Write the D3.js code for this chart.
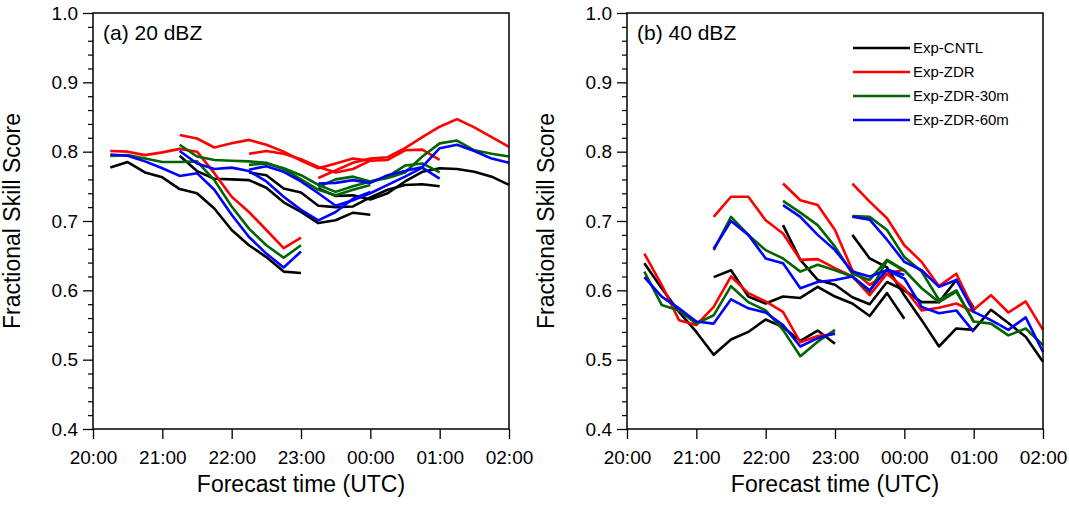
<!DOCTYPE html>
<html><head><meta charset="utf-8">
<script src="https://cdn.jsdelivr.net/npm/d3@7"></script>
<style>body{margin:0;background:#fff}svg{display:block}text{font-family:"Liberation Sans",Arial,Helvetica,sans-serif;fill:#000}</style>
</head><body><svg id="c" width="1069" height="506"></svg>
<script>
// ---- data ----
const xTickLabels = ["20:00","21:00","22:00","23:00","00:00","01:00","02:00"];
const yTickValues = [0.4,0.5,0.6,0.7,0.8,0.9,1.0];
const initMinutes = [0, 60, 120, 180];          // forecast start, minutes after 20:00
const leadMinutes = [15,30,45,60,75,90,105,120,135,150,165,180];
const seriesNames = ["Exp-CNTL","Exp-ZDR","Exp-ZDR-30m","Exp-ZDR-60m"];
const seriesColors = ["#000000","#ff0000","#006400","#0000ff"];
const panelTitles = ["(a) 20 dBZ","(b) 40 dBZ"];

// panel (a) 20 dBZ : one row per forecast cycle
const a_CNTL = [
 [0.777,0.785,0.770,0.763,0.746,0.740,0.718,0.687,0.665,0.648,0.627,0.625],
 [0.794,0.772,0.761,0.760,0.759,0.748,0.727,0.713,0.697,0.701,0.712,0.709],
 [0.770,0.766,0.747,0.741,0.722,0.720,0.721,0.734,0.745,0.752,0.753,0.750],
 [0.747,0.736,0.737,0.731,0.740,0.757,0.771,0.776,0.775,0.771,0.764,0.752]];
const a_ZDR = [
 [0.801,0.800,0.795,0.799,0.804,0.800,0.769,0.735,0.713,0.687,0.661,0.676],
 [0.824,0.819,0.806,0.812,0.817,0.810,0.800,0.787,0.776,0.783,0.790,0.787],
 [0.797,0.801,0.797,0.789,0.778,0.770,0.775,0.787,0.788,0.802,0.803,0.788],
 [0.762,0.773,0.784,0.790,0.792,0.805,0.821,0.836,0.847,0.835,0.821,0.807]];
const a_ZDR30 = [
 [0.794,0.795,0.790,0.785,0.785,0.786,0.759,0.721,0.689,0.665,0.647,0.665],
 [0.810,0.793,0.788,0.787,0.786,0.784,0.775,0.760,0.745,0.737,0.745,0.752],
 [0.781,0.783,0.776,0.766,0.752,0.742,0.750,0.757,0.764,0.780,0.783,0.770],
 [0.749,0.760,0.764,0.757,0.762,0.770,0.793,0.812,0.816,0.802,0.797,0.793]];
const a_ZDR60 = [
 [0.796,0.794,0.786,0.776,0.765,0.769,0.745,0.709,0.677,0.653,0.633,0.656],
 [0.801,0.783,0.775,0.777,0.772,0.757,0.735,0.716,0.701,0.713,0.732,0.742],
 [0.774,0.779,0.771,0.757,0.740,0.722,0.730,0.740,0.752,0.764,0.777,0.761],
 [0.754,0.755,0.759,0.755,0.766,0.772,0.778,0.805,0.810,0.801,0.790,0.784]];

// panel (b) 40 dBZ
const b_CNTL = [
 [0.639,0.603,0.569,0.540,0.507,0.529,0.540,0.558,0.547,0.527,0.542,0.523],
 [0.619,0.629,0.591,0.581,0.591,0.589,0.605,0.591,0.581,0.563,0.596,0.559],
 [0.694,0.644,0.615,0.608,0.590,0.580,0.612,0.600,0.583,0.583,0.615,0.575],
 [0.680,0.646,0.633,0.593,0.557,0.519,0.545,0.543,0.572,0.553,0.533,0.497]];
const b_ZDR = [
 [0.653,0.608,0.557,0.550,0.576,0.620,0.596,0.584,0.569,0.525,0.534,0.537],
 [0.706,0.735,0.735,0.701,0.682,0.644,0.645,0.632,0.620,0.593,0.624,0.630],
 [0.754,0.730,0.723,0.687,0.629,0.608,0.624,0.603,0.571,0.575,0.581,0.569],
 [0.754,0.728,0.704,0.665,0.641,0.606,0.624,0.572,0.593,0.568,0.584,0.543]];
const b_ZDR30 = [
 [0.627,0.579,0.571,0.552,0.564,0.606,0.583,0.571,0.543,0.505,0.526,0.543],
 [0.658,0.706,0.680,0.658,0.646,0.627,0.637,0.629,0.620,0.598,0.643,0.628],
 [0.729,0.712,0.694,0.663,0.624,0.615,0.644,0.629,0.603,0.583,0.598,0.555],
 [0.707,0.706,0.687,0.648,0.627,0.586,0.600,0.555,0.552,0.535,0.545,0.521]];
const b_ZDR60 = [
 [0.619,0.591,0.574,0.555,0.552,0.587,0.574,0.568,0.550,0.519,0.531,0.538],
 [0.660,0.700,0.680,0.646,0.639,0.603,0.612,0.615,0.620,0.600,0.630,0.622],
 [0.723,0.706,0.680,0.658,0.627,0.620,0.629,0.617,0.576,0.567,0.571,0.540],
 [0.706,0.702,0.673,0.641,0.629,0.605,0.615,0.569,0.557,0.543,0.561,0.511]];

const panelData = [[a_CNTL,a_ZDR,a_ZDR30,a_ZDR60],[b_CNTL,b_ZDR,b_ZDR30,b_ZDR60]];

// ---- drawing ----
const svg = d3.select("#c");
const W = 416, H = 416, plotTop = 13;
const lefts = [93, 627];
const font = '"Liberation Sans",Arial,Helvetica,sans-serif';

lefts.forEach((left, p) => {
  const g = svg.append("g").attr("transform", `translate(${left},${plotTop})`);
  const x = d3.scaleLinear().domain([0, 360]).range([0, W]);
  const y = d3.scaleLinear().domain([0.4, 1.0]).range([H, 0]);

  // data lines
  const line = d3.line().x(d => x(d[0])).y(d => y(d[1]));
  panelData[p].forEach((segs, s) => {
    segs.forEach((vals, k) => {
      const pts = vals.map((v, i) => [initMinutes[k] + leadMinutes[i], v]);
      g.append("path").datum(pts).attr("d", line)
        .attr("fill", "none").attr("stroke", seriesColors[s])
        .attr("stroke-width", 2.6).attr("stroke-linejoin", "round");
    });
  });

  // frame
  g.append("rect").attr("width", W).attr("height", H)
    .attr("fill", "none").attr("stroke", "#000").attr("stroke-width", 1.5);

  // y axis: major + minor ticks
  const yAxis = d3.axisLeft(y).tickValues(yTickValues).tickFormat(d3.format(".1f"))
    .tickSize(10).tickPadding(5);
  const ya = g.append("g").call(yAxis);
  ya.select(".domain").remove();
  ya.selectAll("line").attr("stroke-width", 1.3);
  ya.selectAll("text").style("font-family", font).style("font-size", "19px").attr("fill", "#000");
  const minor = d3.range(0.42, 1.0, 0.02).filter(v => Math.abs(v*10 - Math.round(v*10)) > 1e-6);
  g.append("g").call(d3.axisLeft(y).tickValues(minor).tickSize(5).tickFormat(""))
    .call(a => { a.select(".domain").remove(); a.selectAll("line").attr("stroke-width", 1.2); });

  // x axis
  const xAxis = d3.axisBottom(x).tickValues(d3.range(0, 361, 60))
    .tickFormat((d, i) => xTickLabels[i]).tickSize(10).tickPadding(12);
  const xa = g.append("g").attr("transform", `translate(0,${H})`).call(xAxis);
  xa.select(".domain").remove();
  xa.selectAll("line").attr("stroke-width", 1.3);
  xa.selectAll("text").style("font-family", font).style("font-size", "19px").attr("fill", "#000");

  // titles
  g.append("text").attr("x", W/2).attr("y", H + 63).attr("text-anchor", "middle")
    .style("font-size", "23px").text("Forecast time (UTC)");
  g.append("text").attr("transform", `translate(${-73},${H/2}) rotate(-90)`)
    .attr("text-anchor", "middle").style("font-size", "23px").text("Fractional Skill Score");
  g.append("text").attr("x", 10).attr("y", 27).style("font-size", "21px").text(panelTitles[p]);
});

// legend in panel (b)
const lg = svg.append("g").attr("transform", "translate(853,48)");
seriesNames.forEach((n, i) => {
  lg.append("line").attr("x1", 0).attr("x2", 57).attr("y1", i*24).attr("y2", i*24)
    .attr("stroke", seriesColors[i]).attr("stroke-width", 2.4);
  lg.append("text").attr("x", 60).attr("y", i*24 + 5).style("font-size", "15px").text(n);
});
</script></body></html>
